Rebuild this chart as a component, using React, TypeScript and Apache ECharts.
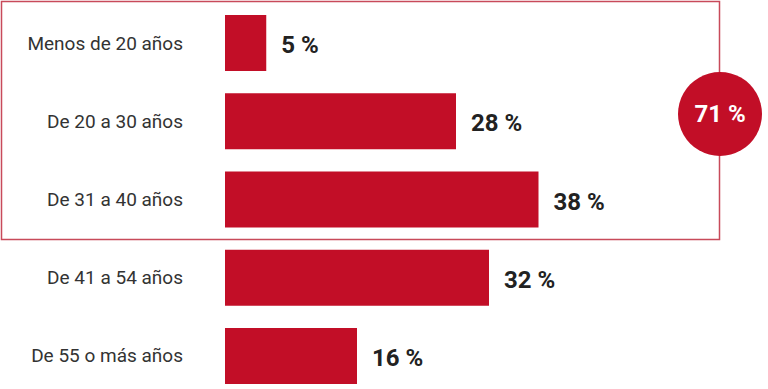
import React, { useEffect, useRef } from "react";
import * as echarts from "echarts";

const categories = [
  "Menos de 20 años",
  "De 20 a 30 años",
  "De 31 a 40 años",
  "De 41 a 54 años",
  "De 55 o más años",
];
const values = [5, 28, 38, 32, 16];
const highlightedCount = 3;

const RED = "#c20e27";

export default function App() {
  const ref = useRef<HTMLDivElement>(null);
  useEffect(() => {
    if (!ref.current) return;
    const chart = echarts.init(ref.current, null, { renderer: "svg" });
    const total = values.slice(0, highlightedCount).reduce((a, b) => a + b, 0);
    chart.setOption({
      animation: false,
      backgroundColor: "#ffffff",
      textStyle: { fontFamily: "Roboto, 'Noto Sans', sans-serif" },
      grid: { left: 225, top: 4, width: 495, height: 391, containLabel: false },
      xAxis: {
        type: "value",
        min: 0,
        max: 60,
        show: false,
      },
      yAxis: {
        type: "category",
        data: categories,
        inverse: true,
        axisLine: { show: false },
        axisTick: { show: false },
        axisLabel: {
          margin: 42,
          color: "#333333",
          fontSize: 19,
          fontFamily: "Roboto, sans-serif",
        },
      },
      series: [
        {
          type: "bar",
          data: values,
          barWidth: 56,
          itemStyle: { color: RED },
          label: {
            show: true,
            position: "right",
            distance: 15,
            offset: [0, 2],
            formatter: "{c} %",
            color: "#222222",
            fontSize: 24,
            fontWeight: "bold",
            fontFamily: "Roboto, sans-serif",
          },
        },
      ],
      graphic: [
        {
          type: "rect",
          shape: { x: 1.5, y: 1.5, width: 718, height: 238 },
          style: { fill: "none", stroke: "#c84a5a", lineWidth: 1.5 },
          z: 10,
        },
        {
          type: "circle",
          shape: { cx: 720, cy: 114, r: 42 },
          style: { fill: RED },
          z: 11,
        },
        {
          type: "text",
          x: 720,
          y: 114,
          style: {
            text: total + " %",
            fill: "#ffffff",
            fontSize: 24,
            fontWeight: "bold",
            fontFamily: "Roboto, sans-serif",
            align: "center",
            verticalAlign: "middle",
          },
          z: 12,
        },
      ],
    });
    return () => chart.dispose();
  }, []);
  return (
    <div
      ref={ref}
      style={{ position: "fixed", left: 0, top: 0, width: 768, height: 400 }}
    />
  );
}
